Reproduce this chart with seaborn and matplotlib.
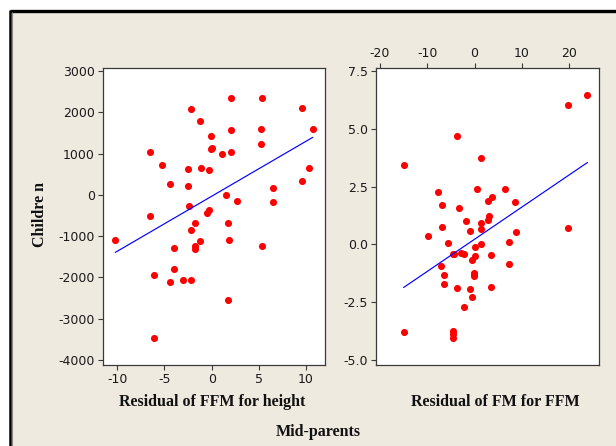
import matplotlib
matplotlib.use("Agg")
import matplotlib.pyplot as plt
from matplotlib.patches import Rectangle
from matplotlib.lines import Line2D
import seaborn as sns
import numpy as np

# ---- data ----
ffm_resid = [-10.2, -6.5, -6.5, -6.1, -6.1, -5.3, -4.4, -4.4, -4.0, -4.0,
             -3.0, -2.5, -2.5, -2.4, -2.2, -2.2, -2.2, -1.8, -1.8, -1.8,
             -1.2, -1.2, -1.1, -0.5, -0.3, -0.3, -0.1, -0.1, 0.0, 1.1,
             1.5, 1.7, 1.7, 1.8, 2.1, 2.1, 2.1, 2.7, 5.2, 5.2,
             5.3, 5.3, 6.5, 6.5, 9.6, 9.6, 10.3, 10.7]
children_ffm = [-1100, 1040, -520, -1930, -3460, 710, 265, -2100, -1290, -1790,
                -2065, 620, 210, -265, 2075, -850, -2065, -680, -1235, -1315,
                1790, -1120, 655, -445, -370, 600, 1435, 1100, 1135, 990,
                -10, -680, -2540, -1100, 2350, 1575, 1040, -155, 1240, 1600,
                2350, -1235, 175, -175, 2100, 345, 655, 1600]

fm_resid = [-15.0, -15.0, -9.9, -7.8, -6.9, -6.9, -7.1, -6.4, -6.4, -5.6,
            -4.5, -4.3, -4.6, -4.6, -4.6, -3.7, -3.7, -3.3, -2.8, -2.3,
            -2.3, -1.7, -1.0, -1.0, -0.6, -0.6, -0.1, -0.1, -0.1, 0.1,
            0.1, 0.6, 1.3, 1.3, 1.3, 1.3, 2.8, 3.0, 2.9, 3.5,
            3.5, 3.8, 6.5, 7.4, 7.4, 8.5, 8.8, 19.8, 19.8, 23.9]
children_fm = [3.45, -3.81, 0.37, 2.25, 1.72, 0.76, -0.92, -1.31, -1.72, 0.07,
               -0.40, -0.40, -3.73, -3.89, -4.05, 4.69, -1.90, 1.56, -0.39, -0.43,
               -2.70, 1.01, 0.58, -1.92, -0.66, -2.26, -1.23, -1.30, -1.38, -0.13,
               -0.52, 2.41, 0.92, 0.65, 0.03, 3.75, 1.86, 1.23, 1.05, -0.48,
               -1.86, 2.06, 2.41, 0.09, -0.87, 1.82, 0.52, 6.03, 0.72, 6.47]

left_xticks = [-10, -5, 0, 5, 10]
left_yticks = [3000, 2000, 1000, 0, -1000, -2000, -3000, -4000]
right_xticks = [-20, -10, 0, 10, 20]
right_yticks = [7.5, 5.0, 2.5, 0.0, -2.5, -5.0]

ylabel_text = "Childre n"
left_xlabel = "Residual of FFM for height"
right_xlabel = "Residual of FM for FFM"
bottom_label = "Mid-parents"

# ---- style ----
sns.set_theme(style="white")
plt.rcParams["font.family"] = ["DejaVu Sans"]
plt.rcParams["axes.unicode_minus"] = False

W, H = 616, 446
fig = plt.figure(figsize=(W / 100, H / 100), dpi=100, facecolor="white")

BG = "#EEEAE0"
fig.patches.append(Rectangle((11 / W, 0), 1 - 11 / W, (H - 11) / H,
                             transform=fig.transFigure, facecolor=BG,
                             edgecolor="none", zorder=-10))
fig.lines.append(Line2D([9.5 / W, 1], [(H - 10.5) / H] * 2, transform=fig.transFigure,
                        color="black", lw=2.4, solid_capstyle="butt"))
fig.lines.append(Line2D([10 / W] * 2, [0, (H - 9.5) / H], transform=fig.transFigure,
                        color="black", lw=1.8, solid_capstyle="butt"))
fig.lines.append(Line2D([11.8 / W] * 2, [0, (H - 12) / H], transform=fig.transFigure,
                        color="#8a8a80", lw=0.8, solid_capstyle="butt"))

def px_axes(x0, y0, x1, y1):
    return fig.add_axes([x0 / W, (H - y1) / H, (x1 - x0) / W, (y1 - y0) / H])

ax1 = px_axes(103, 68, 325, 365)
ax2 = px_axes(376, 68, 599, 365)

scat = dict(color="#FF0000", s=26, linewidths=0, alpha=1, zorder=2)
line = dict(color="#0000FF", lw=0.85, zorder=3)

sns.regplot(x=np.array(ffm_resid), y=np.array(children_ffm), ax=ax1, ci=None,
            scatter_kws=scat, line_kws=line)
sns.regplot(x=np.array(fm_resid), y=np.array(children_fm), ax=ax2, ci=None,
            scatter_kws=scat, line_kws=line)

for ax in (ax1, ax2):
    ax.set_facecolor("white")
    ax.set_xlabel("")
    ax.set_ylabel("")
    for s in ax.spines.values():
        s.set_color("#3a3a3a")
        s.set_linewidth(0.9)
    ax.tick_params(direction="out", length=3.5, width=0.8, color="#3a3a3a",
                   labelsize=9, labelcolor="#1a1a1a", pad=2.5)

ax1.set_xlim(-11.5, 12.0)
ax1.set_ylim(-4120, 3070)
ax1.set_xticks(left_xticks)
ax1.set_xticklabels([str(v) for v in left_xticks])
ax1.set_yticks(left_yticks)
ax1.set_yticklabels([str(v) for v in left_yticks])
ax1.tick_params(left=True, bottom=True)

ax2.set_xlim(-20.85, 26.35)
ax2.set_ylim(-5.22, 7.63)
ax2.set_xticks(right_xticks)
ax2.set_xticklabels([str(v) for v in right_xticks])
ax2.set_yticks(right_yticks)
ax2.set_yticklabels([f"{v:.1f}" for v in right_yticks])
ax2.tick_params(left=True, bottom=False, top=True, labelbottom=False, labeltop=True)

lab = dict(family="Liberation Serif", fontweight="bold", fontsize=11.5, color="#111111")
fig.text(212.5 / W, (H - 402) / H, left_xlabel, ha="center", va="center", **lab)
fig.text(495 / W, (H - 402) / H, right_xlabel, ha="center", va="center", **lab)
fig.text(318 / W, (H - 432) / H, bottom_label, ha="center", va="center", **lab)
fig.text(40 / W, (H - 215) / H, ylabel_text, ha="center", va="center", rotation=90, **lab)

fig.savefig("out.png", dpi=100, facecolor=fig.get_facecolor())
